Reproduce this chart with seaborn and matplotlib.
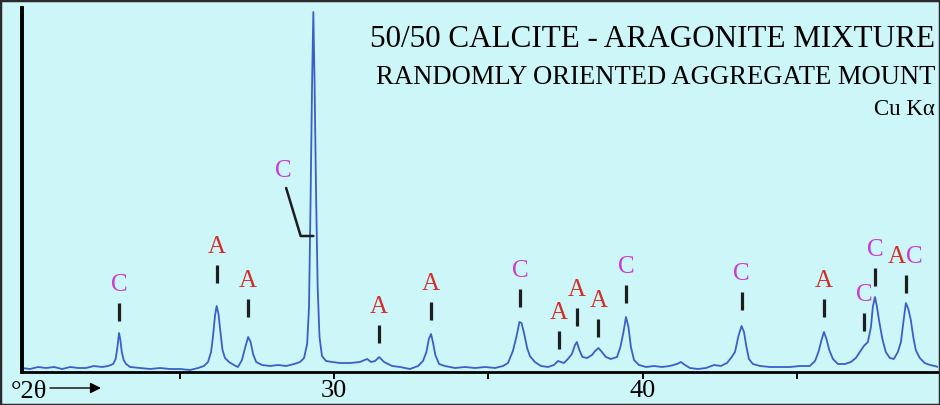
import numpy as np
import pandas as pd
import matplotlib
matplotlib.use("Agg")
import matplotlib.pyplot as plt
from matplotlib.patches import Rectangle
import seaborn as sns

#%% Daten

# Diffraktogramm: 2-Theta [Grad] und Intensitaet (willkuerliche Einheiten)
two_theta = [19.90, 20.16, 20.42, 20.68, 20.94, 21.20, 21.46, 21.72, 21.97, 22.23, 22.49, 22.69,
             22.85, 22.93, 22.99, 23.04, 23.08, 23.13, 23.19, 23.27, 23.40,
             23.72, 24.05, 24.37, 24.69, 25.02, 25.34, 25.60, 25.79,
             25.92, 26.02, 26.08, 26.15, 26.20, 26.26, 26.33, 26.39, 26.47, 26.60, 26.76, 26.89,
             27.02, 27.12, 27.22, 27.30, 27.38, 27.48, 27.67, 27.93, 28.19, 28.45, 28.71, 28.90,
             29.03, 29.13, 29.19, 29.24, 29.29, 29.33, 29.37, 29.42, 29.47, 29.53, 29.61, 29.74, 29.94, 30.19,
             30.52, 30.84, 31.07, 31.20, 31.33, 31.46, 31.62, 31.88, 32.14, 32.46, 32.72,
             32.88, 32.99, 33.07, 33.14, 33.20, 33.28, 33.40, 33.59, 33.92, 34.24, 34.56, 34.89, 35.21, 35.47,
             35.63, 35.79, 35.91, 36.00, 36.07, 36.15, 36.25, 36.34, 36.50, 36.70, 36.93, 37.12,
             37.25, 37.35, 37.44, 37.57,
             37.70, 37.80, 37.86, 37.94, 38.04, 38.19,
             38.35, 38.45, 38.56, 38.67, 38.80, 38.96, 39.16,
             39.27, 39.37, 39.45, 39.53, 39.61, 39.71, 39.87, 40.10, 40.36, 40.61, 40.87,
             41.10, 41.23, 41.36, 41.52, 41.78, 42.04, 42.30, 42.52, 42.72,
             42.85, 42.98, 43.09, 43.19, 43.27, 43.35, 43.43, 43.56, 43.79, 44.11, 44.43, 44.76, 45.08, 45.40, 45.57,
             45.68, 45.78, 45.86, 45.94, 46.03, 46.15, 46.31, 46.54, 46.73, 46.89,
             47.02, 47.15, 47.28, 47.38, 47.44, 47.51, 47.57, 47.65, 47.75, 47.86, 47.99, 48.12, 48.25,
             48.35, 48.43, 48.51, 48.59, 48.67, 48.75, 48.83, 48.96, 49.12, 49.29, 49.45, 49.55]

intensity = [4, 3, 5, 4, 5, 3, 5, 4, 4, 6, 5, 6,
             8, 13, 25, 39, 33, 20, 12, 8, 5,
             4, 3, 4, 3, 3, 2, 4, 6,
             10, 20, 35, 57, 66, 58, 38, 22, 14, 10, 7, 5,
             12, 24, 35, 30, 18, 10, 7, 6, 7, 6, 8, 10,
             14, 28, 65, 170, 290, 360, 290, 175, 85, 35, 16, 11, 10, 9,
             9, 10, 13, 10, 11, 15, 10, 6, 5, 3, 6,
             11, 20, 33, 38, 30, 17, 8, 6, 4, 5, 4, 5, 4, 6,
             9, 21, 36, 50, 49, 39, 24, 16, 10, 6, 5, 7,
             11, 10, 9, 13,
             18, 27, 30, 22, 15, 14,
             17, 21, 24, 20, 15, 13, 15,
             25, 40, 55, 45, 25, 12, 7, 5, 6, 5, 6,
             8, 10, 7, 4, 3, 4, 7, 6, 9,
             14, 20, 36, 46, 40, 25, 13, 8, 6, 5, 5, 5, 6, 6, 11,
             20, 32, 40, 33, 22, 13, 8, 8, 10, 14,
             20, 26, 30, 45, 65, 75, 66, 50, 33, 20, 14, 13, 20,
             30, 50, 69, 63, 52, 35, 22, 14, 9, 7, 6, 5]

# Zuordnung der Reflexe (C = Calcit, A = Aragonit)
label_pos = [23.04, 26.20, 27.22, 31.46, 33.14, 36.03, 37.27, 37.86, 38.56, 39.45,
             43.19, 45.86, 47.15, 47.51, 48.51]
label_phase = ['C', 'A', 'A', 'A', 'A', 'C', 'A', 'A', 'A', 'C',
               'C', 'A', 'C', 'C', 'AC']
main_peak_pos = 29.33
main_peak_phase = 'C'

title_lines = ["50/50 CALCITE - ARAGONITE MIXTURE",
               "RANDOMLY ORIENTED AGGREGATE MOUNT",
               "Cu K\u03b1"]
x_label = "\u00b02\u03b8"
tick_pos = [25, 30, 35, 40, 45]
tick_labels = ["", "30", "", "40", ""]

#%% Layout / Stil

W, H = 940, 405
bg = '#cdf6f8'
line_col = '#3b5fc8'
phase_col = {'C': '#c93ad0', 'A': '#d22e2a'}
# Unterkante der Markerstriche (Intensitaetseinheiten)
bar_bottom = [51, 89, 55, 29, 52, 65, 23, 46, 35, 69, 62, 55, 41, 86, 79]
bar_len = 18
label_lift = 18

sns.set_theme(style="white")
plt.rcParams['font.family'] = ['Liberation Serif', 'DejaVu Serif']
plt.rcParams['text.color'] = 'black'
plt.rcParams['xtick.color'] = 'black'

fig = plt.figure(figsize=(W / 100, H / 100), dpi=100)
fig.patch.set_facecolor(bg)
ax = fig.add_axes([22 / W, 33 / H, 916 / W, 364 / H])
ax.set_facecolor(bg)

df = pd.DataFrame({'two_theta': two_theta, 'intensity': intensity})
sns.lineplot(data=df, x='two_theta', y='intensity', ax=ax, color=line_col,
             lw=1.3, sort=False, errorbar=None)

ax.set_xlim(19.9, 49.55)
ax.set_ylim(0, 364)
ax.set_xlabel('')
ax.set_ylabel('')
ax.set_yticks([])
ax.set_xticks(tick_pos, tick_labels)
ax.tick_params(axis='x', direction='out', length=5, width=1.4, pad=1,
               labelsize=19, colors='black', bottom=True)
sns.despine(ax=ax)
ax.spines['left'].set_linewidth(2.8)
ax.spines['bottom'].set_linewidth(2.0)
ax.spines['left'].set_color('black')
ax.spines['bottom'].set_color('black')

# Markerstriche und Buchstaben
for pos, ph, b in zip(label_pos, label_phase, bar_bottom):
    ax.plot([pos, pos], [b, b + bar_len], color='#1e1e1e', lw=2.3,
            solid_capstyle='butt')
    ly = b + bar_len + label_lift
    if ph == 'AC':
        ax.text(pos, ly, 'A', color=phase_col['A'], ha='right', va='center', fontsize=18)
        ax.text(pos, ly, 'C', color=phase_col['C'], ha='left', va='center', fontsize=18)
    else:
        ax.text(pos, ly, ph, color=phase_col[ph], ha='center', va='center', fontsize=18)

# Hauptreflex mit Fuehrungslinie
ax.plot([main_peak_pos - 0.88, main_peak_pos - 0.41, main_peak_pos],
        [184, 136, 136], color='#1e1e1e', lw=1.8)
ax.text(main_peak_pos - 0.98, 201, main_peak_phase, color=phase_col[main_peak_phase],
        ha='center', va='center', fontsize=18)

# Titelzeilen
fig.text(935 / W, 1 - 47 / H, title_lines[0], ha='right', va='baseline', fontsize=22.4)
fig.text(935 / W, 1 - 84 / H, title_lines[1], ha='right', va='baseline', fontsize=19.2)
fig.text(935 / W, 1 - 115 / H, title_lines[2], ha='right', va='baseline', fontsize=16.5)

# Achsenbeschriftung mit Pfeil
fig.text(11 / W, 1 - 398 / H, x_label, ha='left', va='baseline', fontsize=19)
ax.annotate('', xy=(101 / W, 17 / H), xytext=(50 / W, 17 / H),
            xycoords='figure fraction', textcoords='figure fraction',
            arrowprops=dict(arrowstyle='-|>', color='black', lw=1.0,
                            mutation_scale=16, shrinkA=0, shrinkB=0))

# Rahmen um das Bild
fig.add_artist(Rectangle((0, 0), 1, 1, transform=fig.transFigure, fill=False,
                         edgecolor='#2a2a2a', lw=2.5))

fig.savefig('out.png', dpi=100, facecolor=bg)
